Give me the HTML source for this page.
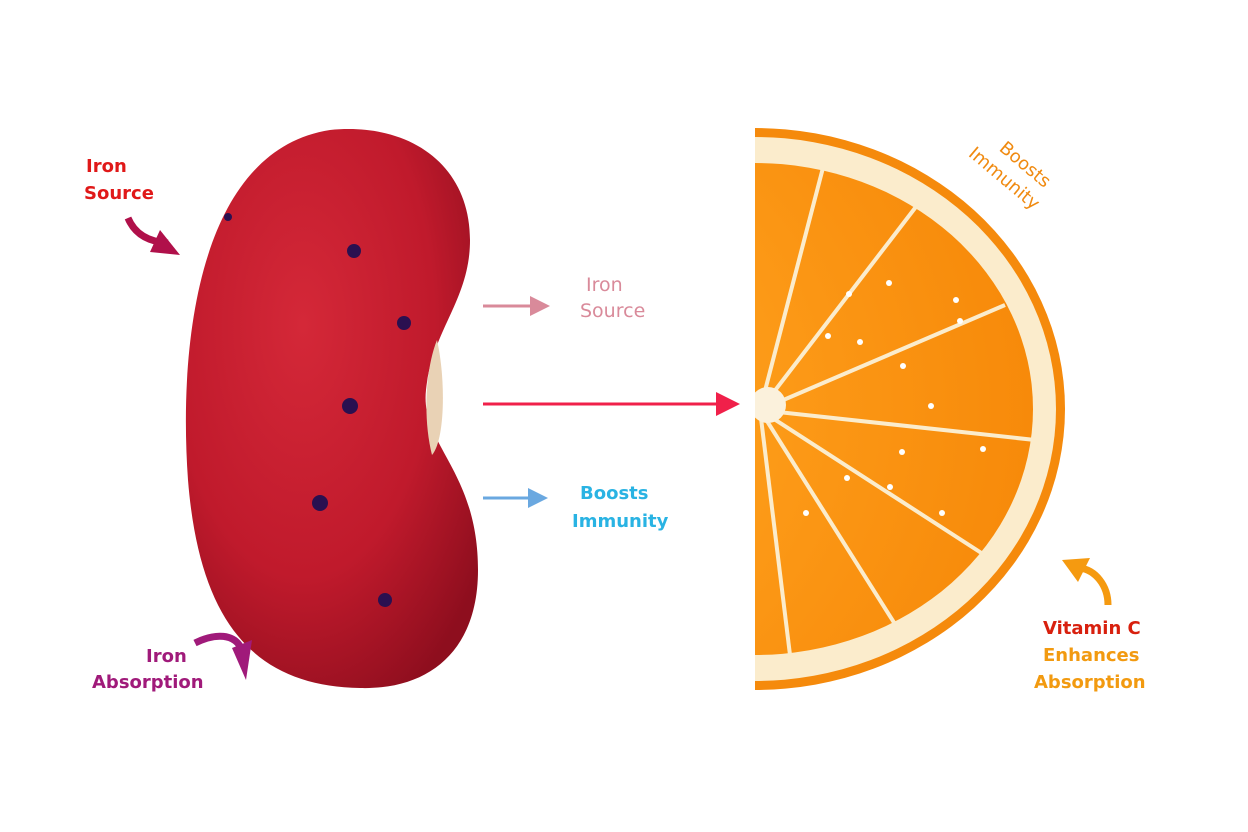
<!DOCTYPE html>
<html><head><meta charset="utf-8"><style>
html,body{margin:0;padding:0;background:#fff;width:1248px;height:832px;overflow:hidden}
svg{display:block}
text{font-family:"DejaVu Sans","Liberation Sans",sans-serif;font-weight:bold}
</style></head><body>
<svg width="1248" height="832" viewBox="0 0 1248 832" xmlns="http://www.w3.org/2000/svg">
<defs>
<radialGradient id="bean" cx="0.4" cy="0.35" r="0.75">
<stop offset="0" stop-color="#d42838"/><stop offset="0.6" stop-color="#c01a2c"/><stop offset="1" stop-color="#8e0e1e"/>
</radialGradient>
<radialGradient id="pulp" cx="0" cy="0.5" r="1">
<stop offset="0" stop-color="#ffd070"/><stop offset="0.3" stop-color="#ffa21e"/><stop offset="1" stop-color="#f78a0a"/>
</radialGradient>
<clipPath id="half"><rect x="755" y="0" width="500" height="832"/></clipPath>
</defs>

<!-- bean -->
<path d="M330,130 C410,122 470,165 470,240 C470,300 432,330 426,390 C420,445 478,470 478,570 C478,650 430,690 360,688 C260,686 200,630 188,480 C178,340 200,150 330,130Z" fill="url(#bean)"/>
<path d="M437,340 C425,370 423,420 432,455 C445,440 446,380 437,340Z" fill="#e9d2b5"/>
<g fill="#2a1050"><circle cx="354" cy="251" r="7"/><circle cx="404" cy="323" r="7"/><circle cx="350" cy="406" r="8"/><circle cx="320" cy="503" r="8"/><circle cx="385" cy="600" r="7"/><circle cx="228" cy="217" r="4"/></g>

<!-- orange -->
<g clip-path="url(#half)">
<ellipse cx="755" cy="409" rx="310" ry="281" fill="#f58a0c"/>
<ellipse cx="755" cy="409" rx="301" ry="272" fill="#fbeccc"/>
<ellipse cx="755" cy="409" rx="278" ry="246" fill="url(#pulp)"/>
<g stroke="#fbeccc" stroke-width="4" fill="none">
<line x1="760" y1="410" x2="825" y2="160"/><line x1="760" y1="410" x2="925" y2="195"/>
<line x1="760" y1="410" x2="1005" y2="305"/><line x1="760" y1="410" x2="1035" y2="440"/>
<line x1="760" y1="410" x2="1000" y2="565"/><line x1="760" y1="410" x2="905" y2="640"/>
<line x1="760" y1="410" x2="790" y2="655"/>
</g>
<circle cx="768" cy="405" r="18" fill="#fbf1dc"/>
</g>
<g fill="#fff"><circle cx="889" cy="283" r="3"/><circle cx="849" cy="294" r="3"/><circle cx="956" cy="300" r="3"/><circle cx="960" cy="321" r="3"/><circle cx="828" cy="336" r="3"/><circle cx="860" cy="342" r="3"/><circle cx="903" cy="366" r="3"/><circle cx="931" cy="406" r="3"/><circle cx="983" cy="449" r="3"/><circle cx="902" cy="452" r="3"/><circle cx="847" cy="478" r="3"/><circle cx="890" cy="487" r="3"/><circle cx="942" cy="513" r="3"/><circle cx="806" cy="513" r="3"/></g>

<!-- arrows center -->
<line x1="483" y1="306" x2="535" y2="306" stroke="#d98a9a" stroke-width="3"/><path d="M530,296 L550,306 L530,316Z" fill="#d98a9a"/>
<line x1="483" y1="404" x2="720" y2="404" stroke="#f0204a" stroke-width="3"/><path d="M716,392 L740,404 L716,416Z" fill="#f0204a"/>
<line x1="483" y1="498" x2="530" y2="498" stroke="#6aa8e0" stroke-width="3"/><path d="M528,488 L548,498 L528,508Z" fill="#6aa8e0"/>

<text x="586" y="291" font-size="19" fill="#d98a9a" style="font-weight:normal">Iron</text>
<text x="580" y="317" font-size="19" fill="#d98a9a" style="font-weight:normal">Source</text>
<text x="580" y="499" font-size="18" fill="#29b3e3">Boosts</text>
<text x="572" y="527" font-size="18" fill="#29b3e3">Immunity</text>

<text x="86" y="172" font-size="18" fill="#e01818">Iron</text>
<text x="84" y="199" font-size="18" fill="#e01818">Source</text>
<path d="M128,218 C135,235 150,242 168,243" stroke="#b0104a" stroke-width="7" fill="none"/><path d="M160,230 L180,255 L150,252Z" fill="#b0104a"/>

<text x="146" y="662" font-size="18" fill="#a01a7a">Iron</text>
<text x="92" y="688" font-size="18" fill="#a01a7a">Absorption</text>
<path d="M195,643 C215,633 235,633 242,650" stroke="#a01a7a" stroke-width="7" fill="none"/><path d="M232,648 L246,680 L252,640Z" fill="#a01a7a"/>

<g transform="translate(1010,170) rotate(40)"><text x="-22" y="-8" font-size="18" fill="#f08a10" style="font-weight:normal">Boosts</text><text x="-42" y="16" font-size="18" fill="#f08a10" style="font-weight:normal">Immunity</text></g>

<path d="M1108,605 C1108,585 1095,570 1080,568" stroke="#f59a10" stroke-width="7" fill="none"/><path d="M1062,560 L1090,558 L1078,582Z" fill="#f59a10"/>
<text x="1043" y="634" font-size="18" fill="#d8200e">Vitamin C</text>
<text x="1043" y="661" font-size="18" fill="#f29a10">Enhances</text>
<text x="1034" y="688" font-size="18" fill="#f29a10">Absorption</text>
</svg>
</body></html>
